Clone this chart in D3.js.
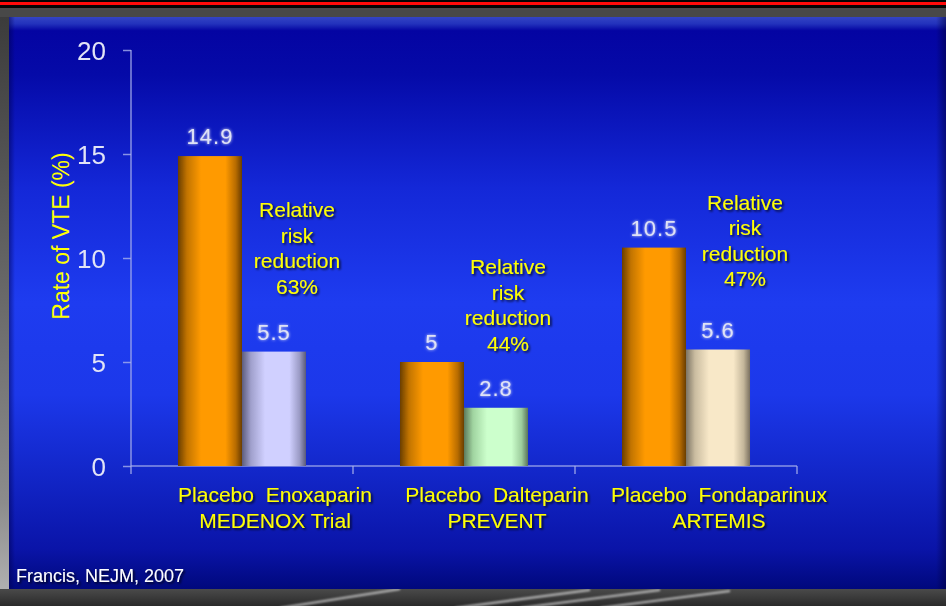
<!DOCTYPE html>
<html>
<head>
<meta charset="utf-8">
<script src="https://cdn.jsdelivr.net/npm/d3@7/dist/d3.min.js"></script>
<style>
  html, body { margin: 0; padding: 0; background: #3a3a3a; }
  svg { display: block; }
  text { font-family: "Liberation Sans", Arial, sans-serif; }
</style>
</head>
<body>
<svg id="chart" width="946" height="606"></svg>
<script>
// VTE rates in three thromboprophylaxis trials
const trials = ["MEDENOX Trial", "PREVENT", "ARTEMIS"];
const drugs = ["Enoxaparin", "Dalteparin", "Fondaparinux"];
const placeboRates = [14.9, 5, 10.5];
const drugRates = [5.5, 2.8, 5.6];
const riskReductions = ["63%", "44%", "47%"];
const yTicks = [0, 5, 10, 15, 20];
const citation = "Francis, NEJM, 2007";
const yTitle = "Rate of VTE (%)";

// where each "Relative risk reduction" note sits: offset from the drug bar, and value level of its first line
const noteLayout = [
  { dx: 23, level: 11.97 },
  { dx: 12, level: 9.23 },
  { dx: 27, level: 12.31 }
];

const W = 946, H = 606;
const panel = { x0: 9, y0: 17, x1: 946, y1: 589 };

const svg = d3.select("#chart");
const defs = svg.append("defs");

// ---- gradients and filters ----
function linGrad(id, stops, vertical) {
  const g = defs.append("linearGradient").attr("id", id)
    .attr("x1", 0).attr("y1", 0)
    .attr("x2", vertical ? 0 : 1).attr("y2", vertical ? 1 : 0);
  stops.forEach(([o, c, op]) => g.append("stop").attr("offset", o).attr("stop-color", c)
    .attr("stop-opacity", op == null ? 1 : op));
  return g;
}

linGrad("panelGrad", [
  [0, "#3444c4"], [0.012, "#2232bc"], [0.024, "#0404a2"], [0.1, "#050aa8"],
  [0.3, "#1428d8"], [0.5, "#1e3cf0"], [0.66, "#1c38ea"], [0.8, "#1226c8"],
  [0.93, "#0a14a8"], [1, "#00087c"]
], true);
linGrad("panelRight", [[0, "#000040", 0], [1, "#000040", 0.55]], false);
linGrad("panelLeft", [[0, "#000050", 0.5], [1, "#000050", 0]], false);
linGrad("leftFrame", [[0, "#3c3c3c"], [0.5, "#6a6a6a"], [0.85, "#8c8c8c"], [1, "#b0b0b0"]], true);
linGrad("floor", [[0, "#4a4a4a"], [1, "#2a2a2a"]], true);
linGrad("streak", [[0, "#ffffff", 0], [0.5, "#ffffff", 0.85], [1, "#ffffff", 0]], false);

const barColors = {
  orange: ["#6a3e00", "#c27400", "#ff9a00", "#ff9a00", "#b86c00", "#6a3e00"],
  lavender: ["#5c5c7c", "#a0a0cc", "#d0d0ff", "#d0d0ff", "#9a9ac4", "#5a5a78"],
  green: ["#5c7a5c", "#a0d4a0", "#ccffcc", "#ccffcc", "#9ccc9c", "#5a745a"],
  cream: ["#7c7464", "#cabca0", "#f8e8c8", "#f8e8c8", "#c4b69a", "#7a7060"]
};
Object.entries(barColors).forEach(([k, c]) => {
  linGrad("bar-" + k, [[0, c[0]], [0.14, c[1]], [0.36, c[2]], [0.74, c[3]], [0.9, c[4]], [1, c[5]]], false);
});
const drugColor = ["lavender", "green", "cream"];

const shadow = defs.append("filter").attr("id", "shadow")
  .attr("x", "-10%").attr("y", "-20%").attr("width", "130%").attr("height", "160%");
shadow.append("feDropShadow").attr("dx", 1.6).attr("dy", 1.6).attr("stdDeviation", 0.9)
  .attr("flood-color", "#000010").attr("flood-opacity", 0.85);

const glow = defs.append("filter").attr("id", "glow")
  .attr("x", "-20%").attr("y", "-30%").attr("width", "140%").attr("height", "160%");
glow.append("feGaussianBlur").attr("in", "SourceGraphic").attr("stdDeviation", 1.6).attr("result", "b");
const gm = glow.append("feMerge");
gm.append("feMergeNode").attr("in", "b");
gm.append("feMergeNode").attr("in", "SourceGraphic");

const soft = defs.append("filter").attr("id", "soft")
  .attr("x", "-5%").attr("y", "-5%").attr("width", "110%").attr("height", "110%");
soft.append("feGaussianBlur").attr("stdDeviation", 0.6);

const streakBlur = defs.append("filter").attr("id", "streakBlur");
streakBlur.append("feGaussianBlur").attr("stdDeviation", 1.1);

// ---- slide frame ----
svg.append("rect").attr("x", 0).attr("y", 0).attr("width", W).attr("height", H).attr("fill", "#3e3e3e");
svg.append("rect").attr("x", 0).attr("y", 0).attr("width", W).attr("height", 8).attr("fill", "#050505");
svg.append("rect").attr("x", 0).attr("y", 2).attr("width", W).attr("height", 3).attr("fill", "#ff0a0a");
svg.append("rect").attr("x", 0).attr("y", 8).attr("width", W).attr("height", 9).attr("fill", "#484848");
svg.append("rect").attr("x", 0).attr("y", 17).attr("width", panel.x0).attr("height", panel.y1 - 17)
  .attr("fill", "url(#leftFrame)");
svg.append("rect").attr("x", 0).attr("y", panel.y1).attr("width", W).attr("height", H - panel.y1)
  .attr("fill", "url(#floor)");

// light streaks on the floor
const streaks = [
  [[280, 608], [400, 589]],
  [[455, 608], [590, 590]],
  [[520, 608], [660, 590]],
  [[600, 608], [730, 591]]
];
svg.append("g").attr("filter", "url(#streakBlur)")
  .selectAll("path").data(streaks).join("path")
  .attr("d", d => d3.line()(d))
  .attr("stroke", "#e8e8e8").attr("stroke-opacity", 0.75)
  .attr("stroke-width", 2.2).attr("fill", "none");

// blue panel
svg.append("rect").attr("x", panel.x0).attr("y", panel.y0)
  .attr("width", panel.x1 - panel.x0).attr("height", panel.y1 - panel.y0)
  .attr("fill", "url(#panelGrad)");
svg.append("rect").attr("x", panel.x1 - 10).attr("y", panel.y0).attr("width", 10)
  .attr("height", panel.y1 - panel.y0).attr("fill", "url(#panelRight)");
svg.append("rect").attr("x", panel.x0).attr("y", panel.y0).attr("width", 6)
  .attr("height", panel.y1 - panel.y0).attr("fill", "url(#panelLeft)");

// ---- scales ----
const x = d3.scaleBand().domain(trials).range([131, 797]).paddingInner(0).paddingOuter(0);
const xs = d3.scaleBand().domain(["placebo", "drug"]).range([0, x.bandwidth()])
  .paddingInner(0).paddingOuter(0.734);
const y = d3.scaleLinear().domain([0, 20]).range([466, 50]);

const axisColor = "#a8b0ec";

// ---- y axis ----
const yAxis = d3.axisLeft(y).tickValues(yTicks).tickSize(8).tickPadding(17).tickFormat(d3.format("d"));
const gy = svg.append("g").attr("transform", `translate(${x.range()[0]},0)`).call(yAxis);
gy.select(".domain").remove();
gy.selectAll(".tick line").attr("stroke", axisColor).attr("stroke-width", 1.5).attr("stroke-opacity", 0.8);
gy.selectAll(".tick text")
  .attr("fill", "#e2e4f6").attr("font-size", 26).attr("dy", "0.36em")
  .attr("font-family", "Liberation Sans, Arial, sans-serif")
  .attr("filter", "url(#soft)");
svg.append("line")
  .attr("x1", x.range()[0]).attr("x2", x.range()[0])
  .attr("y1", y(20)).attr("y2", y(0) + 8)
  .attr("stroke", axisColor).attr("stroke-width", 1.5).attr("stroke-opacity", 0.8);

// ---- x axis: baseline and category boundary ticks ----
svg.append("line")
  .attr("x1", x.range()[0]).attr("x2", x.range()[1])
  .attr("y1", y(0)).attr("y2", y(0))
  .attr("stroke", axisColor).attr("stroke-width", 1.5).attr("stroke-opacity", 0.8);
const bounds = trials.slice(1).map(t => x(t)).concat([x.range()[1]]);
svg.append("g").selectAll("line").data(bounds).join("line")
  .attr("x1", d => d).attr("x2", d => d)
  .attr("y1", y(0)).attr("y2", y(0) + 8)
  .attr("stroke", axisColor).attr("stroke-width", 1.5).attr("stroke-opacity", 0.8);

// ---- bars ----
const rows = trials.map((t, i) => ({
  trial: t, drug: drugs[i], placebo: placeboRates[i], active: drugRates[i],
  rrr: riskReductions[i], color: drugColor[i], note: noteLayout[i]
}));

const groups = svg.append("g").selectAll("g").data(rows).join("g")
  .attr("transform", d => `translate(${x(d.trial)},0)`);

groups.append("rect")
  .attr("x", xs("placebo")).attr("width", xs.bandwidth())
  .attr("y", d => y(d.placebo)).attr("height", d => y(0) - y(d.placebo))
  .attr("fill", "url(#bar-orange)").attr("filter", "url(#soft)");
groups.append("rect")
  .attr("x", xs("drug")).attr("width", xs.bandwidth())
  .attr("y", d => y(d.active)).attr("height", d => y(0) - y(d.active))
  .attr("fill", d => `url(#bar-${d.color})`).attr("filter", "url(#soft)");

// value labels above bars
const valueFmt = v => String(v);
function valueLabel(sel, key, acc) {
  sel.append("text")
    .attr("x", xs(key) + xs.bandwidth() / 2)
    .attr("y", d => y(acc(d)) - 12)
    .attr("text-anchor", "middle")
    .attr("font-size", 22).attr("letter-spacing", 1)
    .attr("fill", "#dfe2f6").attr("filter", "url(#glow)")
    .text(d => valueFmt(acc(d)));
}
valueLabel(groups, "placebo", d => d.placebo);
valueLabel(groups, "drug", d => d.active);

// relative risk reduction notes
groups.each(function (d) {
  const g = d3.select(this);
  const cx = xs("drug") + xs.bandwidth() / 2 + d.note.dx;
  const lines = ["Relative", "risk", "reduction", d.rrr];
  g.append("text")
    .attr("text-anchor", "middle").attr("font-size", 21)
    .attr("fill", "#ffff00").attr("filter", "url(#shadow)")
    .selectAll("tspan").data(lines).join("tspan")
    .attr("x", cx).attr("y", (l, i) => y(d.note.level) + i * 25.5)
    .text(l => l);
});

// category labels under each pair of bars
groups.append("text")
  .attr("text-anchor", "middle").attr("font-size", 21)
  .attr("fill", "#ffff00").attr("filter", "url(#shadow)")
  .selectAll("tspan").data(d => [`Placebo\u00a0 ${d.drug}`, d.trial]).join("tspan")
  .attr("x", x.bandwidth() / 2 + 33)
  .attr("y", (l, i) => y(0) + 36 + i * 26)
  .text(l => l);

// y axis title
svg.append("text")
  .attr("transform", `translate(69,${(y(15) + y(5)) / 2 - 22}) rotate(-90)`)
  .attr("text-anchor", "middle").attr("font-size", 23)
  .attr("fill", "#ffff00")
  .text(yTitle);

// source
svg.append("text")
  .attr("x", 16).attr("y", 582)
  .attr("font-size", 18).attr("fill", "#ffffff").attr("filter", "url(#shadow)")
  .text(citation);
</script>
</body>
</html>
